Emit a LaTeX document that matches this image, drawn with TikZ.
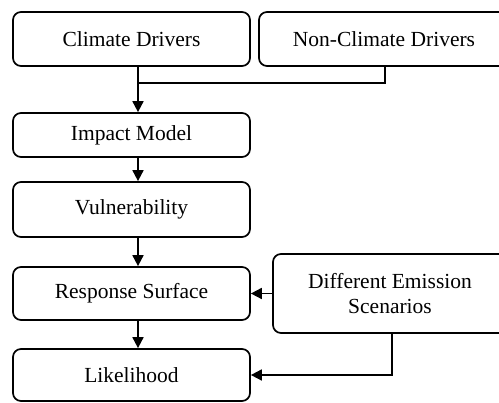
\documentclass[tikz,border=0pt]{standalone}
\usepackage{fontspec}
\setmainfont{Liberation Serif}
\usetikzlibrary{arrows.meta,calc}

\tikzset{
  box/.style={draw, line width=1.7pt, rounded corners=8pt, align=center,
    inner sep=0pt, font=\fontsize{21.5}{24.5}\selectfont},
  link/.style={line width=1.7pt},
  arr/.style={link, -{Triangle[length=11pt,width=11pt]}},
}

\begin{document}
\begin{tikzpicture}[x=1pt,y=-1pt]
  \useasboundingbox (0,0) rectangle (499,403);
  \clip (0,0) rectangle (499,403);

  % left column
  \node[box, minimum width=237pt, minimum height=54pt] (clim)   at (131.5,39)    {Climate Drivers};
  \node[box, minimum width=237pt, minimum height=44pt] (impact) at (131.5,135)   {Impact Model};
  \node[box, minimum width=237pt, minimum height=55pt] (vuln)   at (131.5,209.5) {Vulnerability};
  \node[box, minimum width=237pt, minimum height=53pt] (resp)   at (131.5,293.5) {Response Surface};
  \node[box, minimum width=237pt, minimum height=52pt] (like)   at (131.5,375)   {Likelihood};

  % right column
  \node[box, minimum width=250pt, minimum height=54pt] (nonclim) at (384,39)    {Non-Climate Drivers};
  \node[box, minimum width=234pt, minimum height=79pt] (emis)    at (390,293.5) {Different Emission\\Scenarios};

  % connector guides
  \coordinate (spine) at (138,0);
  \coordinate (ncx)   at (385,0);
  \coordinate (emx)   at (392,0);
  \coordinate (join)  at (138,83);

  % connectors
  \draw[arr] (clim.south -| spine) -- (impact.north -| spine);
  \draw[link] (nonclim.south -| ncx) |- (join);
  \draw[arr] (impact.south -| spine) -- (vuln.north -| spine);
  \draw[arr] (vuln.south -| spine) -- (resp.north -| spine);
  \draw[arr] (resp.south -| spine) -- (like.north -| spine);
  \draw[arr] (emis.west) -- (resp.east);
  \draw[arr] (emis.south -| emx) |- (like.east);
\end{tikzpicture}
\end{document}
